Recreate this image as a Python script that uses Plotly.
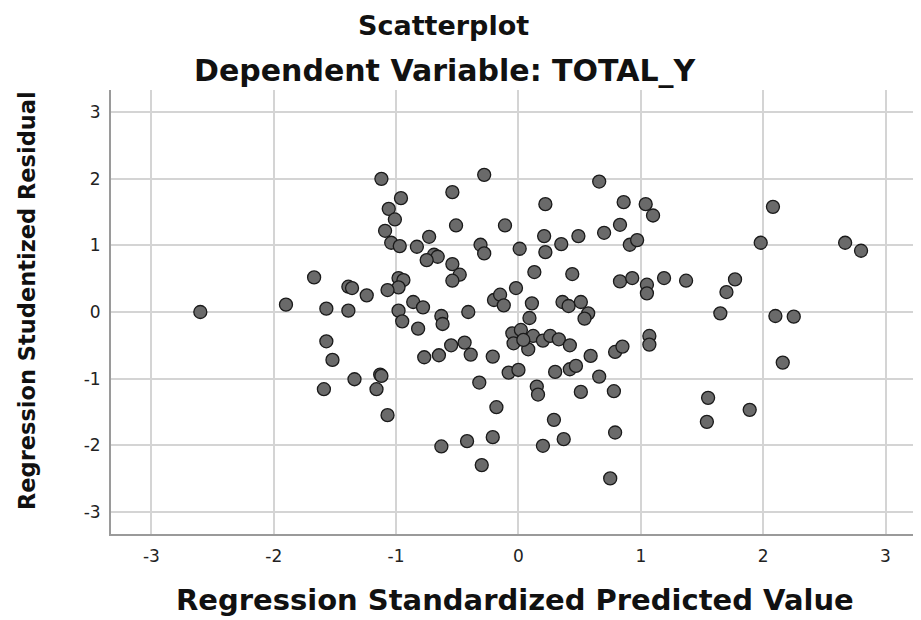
import plotly.graph_objects as go

# Regression standardized predicted value (x) and studentized residual (y)
pred = [
    -2.60, -1.90, -1.67, -1.57, -1.39, -1.36, -1.39, -1.24, -1.57, -1.52,
    -1.59, -1.34, -1.13, -1.12, -1.16, -1.07, -1.12, -0.28, -0.54, -0.96,
    -1.06, -1.01, -0.51, -0.11, -1.09, -0.73, -1.04, -0.97, -0.83, -0.31,
    -0.28, 0.01, -0.69, -0.66, -0.75, -0.54, -0.48, -0.54, -0.98, -0.94,
    -0.98, -1.07, -0.86, -0.78, -0.98, -0.63, -0.41, -0.20, -0.15, -0.12,
    -0.02, -0.95, -0.82, -0.62, -0.77, -0.65, -0.55, -0.44, -0.39, -0.21,
    -0.05, -0.04, -0.08, 0.00, -0.32, -0.18, -0.63, -0.42, -0.21, -0.30,
    0.66, 0.22, 0.86, 1.04, 1.10, 2.08, 0.21, 0.49, 0.70, 0.83,
    0.35, 0.22, 0.91, 0.97, 1.98, 2.67, 2.80, 0.13, 0.44, 0.83,
    0.93, 1.05, 1.05, 1.19, 1.37, 1.77, 1.70, 0.11, 0.36, 0.41,
    0.51, 0.57, 0.54, 0.09, 1.65, 2.10, 2.25, 0.02, 0.12, 0.08,
    0.20, 0.26, 0.33, 0.42, 0.04, 0.59, 0.79, 0.85, 1.07, 1.07,
    0.30, 0.42, 0.47, 0.66, 0.15, 0.16, 0.51, 0.78, 0.29, 0.37,
    0.20, 0.79, 2.16, 1.55, 1.89, 1.54, 0.75,
]
resid = [
    0.00, 0.11, 0.52, 0.05, 0.38, 0.36, 0.02, 0.25, -0.44, -0.72,
    -1.16, -1.01, -0.94, -0.96, -1.16, -1.55, 2.00, 2.06, 1.80, 1.71,
    1.55, 1.39, 1.30, 1.30, 1.22, 1.13, 1.04, 0.99, 0.98, 1.01,
    0.88, 0.95, 0.86, 0.83, 0.78, 0.72, 0.56, 0.47, 0.51, 0.48,
    0.37, 0.33, 0.15, 0.07, 0.02, -0.06, 0.00, 0.18, 0.26, 0.10,
    0.36, -0.14, -0.25, -0.18, -0.68, -0.65, -0.50, -0.46, -0.64, -0.67,
    -0.32, -0.47, -0.91, -0.87, -1.06, -1.43, -2.02, -1.94, -1.88, -2.30,
    1.96, 1.62, 1.65, 1.62, 1.45, 1.58, 1.14, 1.14, 1.19, 1.31,
    1.02, 0.90, 1.01, 1.08, 1.04, 1.04, 0.92, 0.60, 0.57, 0.46,
    0.51, 0.41, 0.28, 0.51, 0.47, 0.49, 0.30, 0.13, 0.15, 0.09,
    0.15, -0.02, -0.10, -0.09, -0.02, -0.06, -0.07, -0.27, -0.36, -0.56,
    -0.43, -0.36, -0.41, -0.50, -0.42, -0.66, -0.60, -0.52, -0.36, -0.49,
    -0.90, -0.86, -0.81, -0.97, -1.12, -1.24, -1.20, -1.19, -1.62, -1.91,
    -2.01, -1.81, -0.76, -1.29, -1.47, -1.65, -2.50,
]
tick_vals = [-3, -2, -1, 0, 1, 2, 3]
tick_text = ["-3", "-2", "-1", "0", "1", "2", "3"]

title_main = "Scatterplot"
title_sub = "Dependent Variable: TOTAL_Y"
x_title = "Regression Standardized Predicted Value"
y_title = "Regression Studentized Residual"

# page body adds an 8px offset; size the figure to fill the rest of the window
OFF = 8
W, H = 921 - OFF, 620 - OFF
ML, MR, MT, MB = 111 - OFF, 0, 90 - OFF, 86
PW, PH = W - ML - MR, H - MT - MB

def px_x(px):
    return (px - OFF - ML) / PW

def px_y(py):
    return (H - MB - (py - OFF)) / PH

fig = go.Figure()
fig.add_trace(go.Scatter(
    x=pred, y=resid, mode="markers",
    marker=dict(size=13, color="#6a6a6a", line=dict(color="#1a1a1a", width=1.3)),
    showlegend=False, hoverinfo="x+y",
))

fam = "DejaVu Sans"
fig.update_layout(
    width=W, height=H,
    margin=dict(l=ML, r=MR, t=MT, b=MB),
    paper_bgcolor="white", plot_bgcolor="white",
    xaxis=dict(
        range=[-3.33, 3.29], tickvals=tick_vals, ticktext=tick_text,
        showgrid=True, gridcolor="#d4d4d4", gridwidth=2,
        zeroline=False, showline=True, linecolor="#9a9a9a", linewidth=2,
        mirror=False, ticks="", ticklabelstandoff=6, automargin=False,
        tickfont=dict(family=fam, size=17, color="#222"),
    ),
    yaxis=dict(
        range=[-3.335, 3.335], tickvals=tick_vals, ticktext=tick_text,
        showgrid=True, gridcolor="#d4d4d4", gridwidth=2,
        zeroline=False, showline=True, linecolor="#9a9a9a", linewidth=2,
        mirror=False, ticks="", ticklabelstandoff=5, automargin=False,
        tickfont=dict(family=fam, size=17, color="#222"),
    ),
    annotations=[
        dict(text="<b>%s</b>" % title_main, xref="paper", yref="paper",
             x=px_x(443), y=px_y(25), xanchor="center", yanchor="middle",
             showarrow=False, font=dict(family=fam, size=27, color="#111")),
        dict(text="<b>%s</b>" % title_sub, xref="paper", yref="paper",
             x=px_x(445), y=px_y(70), xanchor="center", yanchor="middle",
             showarrow=False, font=dict(family=fam, size=30, color="#111")),
        dict(text="<b>%s</b>" % x_title, xref="paper", yref="paper",
             x=px_x(515), y=px_y(600), xanchor="center", yanchor="middle",
             showarrow=False, font=dict(family=fam, size=29, color="#111")),
        dict(text="<b>%s</b>" % y_title, xref="paper", yref="paper",
             x=px_x(27), y=px_y(301), xanchor="center", yanchor="middle",
             textangle=-90, showarrow=False,
             font=dict(family=fam, size=22.5, color="#111")),
    ],
)

fig.write_html("out.html")
